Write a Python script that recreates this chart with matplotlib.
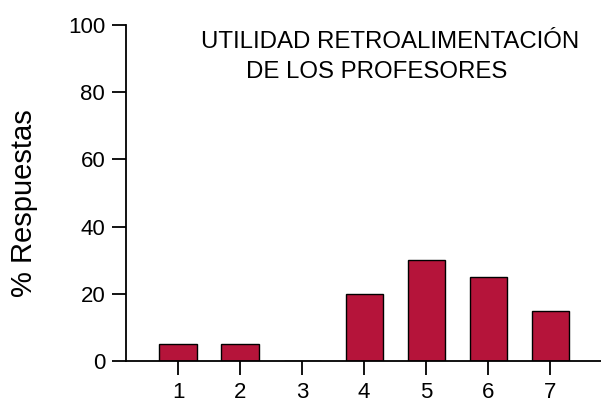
import numpy as np
from matplotlib import pyplot as plt

plt.rcParams['font.family'] = ['Liberation Sans', 'DejaVu Sans']

categorias = ['1', '2', '3', '4', '5', '6', '7']
respuestas = [5, 5, 0, 20, 30, 25, 15]
yticks = [0, 20, 40, 60, 80, 100]

fig = plt.figure(figsize=(6.01, 4.03), dpi=100)
ax = fig.add_axes([126 / 601, 42 / 403, 475 / 601, 336 / 403])

x = np.arange(1, len(categorias) + 1)
ax.bar(x, respuestas, width=0.6, color='#B5143A', edgecolor='black', linewidth=1)

ax.set_xlim(0.16, 7.82)
ax.set_ylim(0, 100)
ax.set_xticks(x)
ax.set_xticklabels(categorias)
ax.set_yticks(yticks)
ax.tick_params(axis='both', labelsize=16, length=10, width=1.3, direction='out', pad=5)
ax.spines['top'].set_visible(False)
ax.spines['right'].set_visible(False)
ax.spines['left'].set_linewidth(1.3)
ax.spines['bottom'].set_linewidth(1.3)
ax.set_ylabel('% Respuestas', fontsize=21)
ax.yaxis.set_label_coords(-0.185, 0.47)

fig.text(201 / 601, 1 - 42 / 403, 'UTILIDAD RETROALIMENTACIÓN', fontsize=12 * 377 / 262, va='center', ha='left')
fig.text(246 / 601, 1 - 72 / 403, 'DE LOS PROFESORES', fontsize=12 * 377 / 262, va='center', ha='left')

fig.savefig('out.png', dpi=100)
